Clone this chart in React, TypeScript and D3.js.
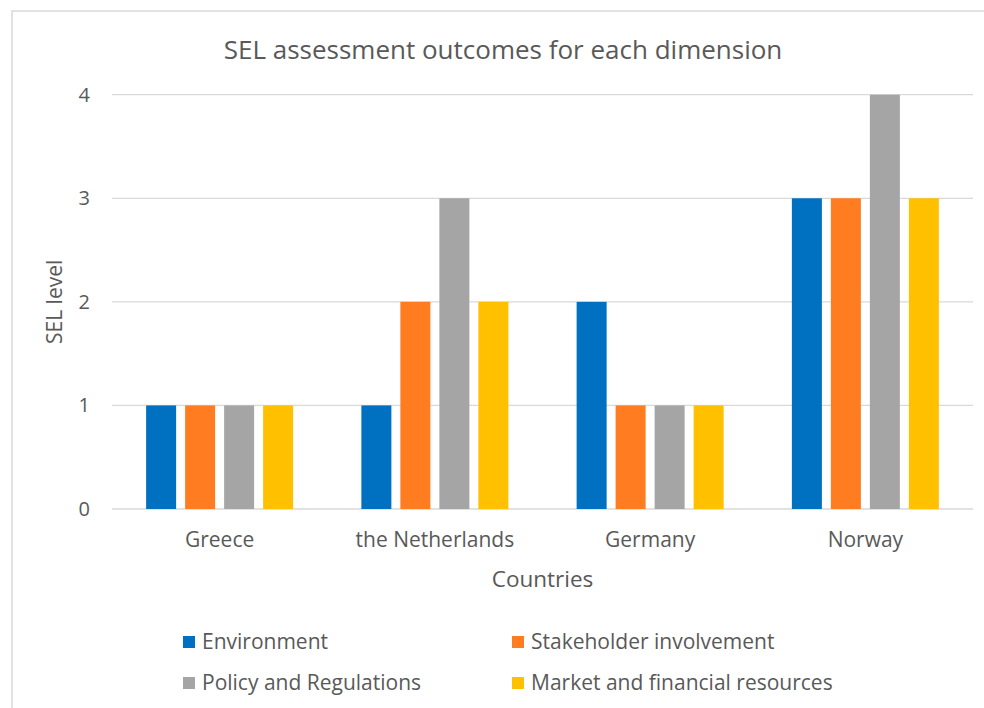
import React, { useEffect, useRef } from 'react';
import * as d3 from 'd3';

const countries = ['Greece', 'the Netherlands', 'Germany', 'Norway'];
const seriesNames = [
  'Environment',
  'Stakeholder involvement',
  'Policy and Regulations',
  'Market and financial resources',
];
const environment = [1, 1, 2, 3];
const stakeholder = [1, 2, 1, 3];
const policy = [1, 3, 1, 4];
const market = [1, 2, 1, 3];
const yTicks = [0, 1, 2, 3, 4];
const colors = ['#0070C0', '#FF7C20', '#A5A5A5', '#FFC000'];

const FONT = '"Open Sans", "Noto Sans", sans-serif';
const TEXT = '#595959';

/**
 * Clustered bar chart: SEL level per dimension, grouped by country.
 */
const App: React.FC = () => {
  const svgRef = useRef<SVGSVGElement>(null);

  useEffect(() => {
    if (!svgRef.current) return;
    const el = svgRef.current;
    d3.select(el).selectAll('*').remove();

    const svg = d3.select(el);
    const values = [environment, stakeholder, policy, market];

    const left = 112;
    const right = 973;
    const top = 94.7;
    const bottom = 509;

    // Chart frame (cropped on right / bottom like the original screenshot)
    svg
      .append('rect')
      .attr('x', 12)
      .attr('y', 11)
      .attr('width', 1000)
      .attr('height', 720)
      .attr('fill', '#fff')
      .attr('stroke', '#D9D9D9')
      .attr('stroke-width', 1.5);

    // Scales
    const x0 = d3.scaleBand<string>().domain(countries).range([left, right]);
    const groupWidth = 147;
    const x1 = d3
      .scaleBand<string>()
      .domain(seriesNames)
      .range([0, groupWidth])
      .paddingInner(9 / 39);
    const y = d3.scaleLinear().domain([0, 4]).range([bottom, top]);

    // Grid lines
    svg
      .append('g')
      .selectAll('line')
      .data(yTicks)
      .enter()
      .append('line')
      .attr('x1', left)
      .attr('x2', right)
      .attr('y1', (d) => y(d))
      .attr('y2', (d) => y(d))
      .attr('stroke', '#D9D9D9')
      .attr('stroke-width', 1.3);

    // Y tick labels
    svg
      .append('g')
      .selectAll('text')
      .data(yTicks)
      .enter()
      .append('text')
      .attr('x', 90)
      .attr('y', (d) => y(d))
      .attr('dy', '0.35em')
      .attr('text-anchor', 'end')
      .attr('fill', TEXT)
      .attr('font-family', FONT)
      .attr('font-size', 20)
      .text((d) => String(d));

    // Bars
    const groups = svg
      .append('g')
      .selectAll('g')
      .data(countries)
      .enter()
      .append('g')
      .attr(
        'transform',
        (c) => `translate(${(x0(c) ?? 0) + x0.bandwidth() / 2 - groupWidth / 2},0)`
      );

    groups
      .selectAll('rect')
      .data((c, ci) => seriesNames.map((s, si) => ({ s, si, v: values[si][ci] })))
      .enter()
      .append('rect')
      .attr('x', (d) => x1(d.s) ?? 0)
      .attr('y', (d) => y(d.v))
      .attr('width', x1.bandwidth())
      .attr('height', (d) => bottom - y(d.v))
      .attr('fill', (d) => colors[d.si]);

    // Category labels
    svg
      .append('g')
      .selectAll('text')
      .data(countries)
      .enter()
      .append('text')
      .attr('x', (c) => (x0(c) ?? 0) + x0.bandwidth() / 2)
      .attr('y', 547)
      .attr('text-anchor', 'middle')
      .attr('fill', TEXT)
      .attr('font-family', FONT)
      .attr('font-size', 21)
      .text((c) => c);

    // Title
    svg
      .append('text')
      .attr('x', 503)
      .attr('y', 59)
      .attr('text-anchor', 'middle')
      .attr('fill', TEXT)
      .attr('font-family', FONT)
      .attr('font-size', 26)
      .text('SEL assessment outcomes for each dimension');

    // Axis titles
    svg
      .append('text')
      .attr('x', (left + right) / 2)
      .attr('y', 587)
      .attr('text-anchor', 'middle')
      .attr('fill', TEXT)
      .attr('font-family', FONT)
      .attr('font-size', 22.5)
      .text('Countries');

    svg
      .append('text')
      .attr('transform', `translate(62,${(top + bottom) / 2}) rotate(-90)`)
      .attr('text-anchor', 'middle')
      .attr('fill', TEXT)
      .attr('font-family', FONT)
      .attr('font-size', 21)
      .text('SEL level');

    // Legend
    const legendPos = [
      { x: 183, y: 642 },
      { x: 512, y: 642 },
      { x: 183, y: 683 },
      { x: 512, y: 683 },
    ];
    const legend = svg
      .append('g')
      .selectAll('g')
      .data(seriesNames)
      .enter()
      .append('g')
      .attr('transform', (d, i) => `translate(${legendPos[i].x},${legendPos[i].y})`);

    legend
      .append('rect')
      .attr('x', 0)
      .attr('y', -6)
      .attr('width', 12)
      .attr('height', 12)
      .attr('fill', (d, i) => colors[i]);

    legend
      .append('text')
      .attr('x', 19)
      .attr('y', 0)
      .attr('dy', '0.35em')
      .attr('fill', TEXT)
      .attr('font-family', FONT)
      .attr('font-size', 21)
      .text((d) => d);
  }, []);

  return (
    <svg
      ref={svgRef}
      width={984}
      height={708}
      style={{ position: 'absolute', left: 0, top: 0, background: '#fff' }}
    />
  );
};

export default App;
